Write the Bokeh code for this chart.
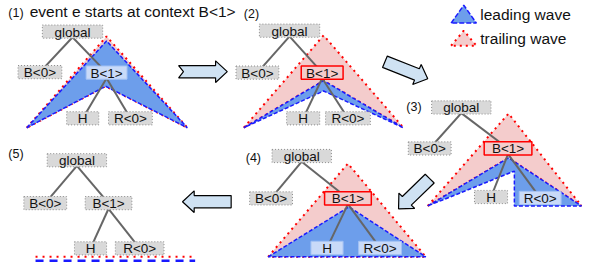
from bokeh.plotting import figure
from bokeh.models import Range1d
from bokeh.embed import file_html
from bokeh.resources import INLINE
from bokeh.core.properties import value
import math

FONT = value("Liberation Sans")

# ---------------- data ----------------
node_labels = ["global", "B<0>", "B<1>", "H", "R<0>"]
edges = [(0, 1), (0, 2), (2, 3), (2, 4)]

# per panel: centre x, centre y, width, style for each node
panel_cx = [
    [74, 40.5, 109, 84.5, 133.5],
    [297, 264, 330.5, 311, 357],
    [473.5, 441, 521.5, 504, 554.5],
    [309.5, 278, 357, 335.5, 390],
    [78.5, 46, 111, 92.5, 143],
]
panel_cy = [
    [33, 76, 76.5, 125, 125],
    [32, 76.5, 76.5, 125, 125],
    [113.5, 157, 157, 208.5, 209.5],
    [165, 210, 210, 262.5, 262.5],
    [169.5, 215, 215, 263, 263],
]
panel_w = [
    [62, 45, 42, 33, 45],
    [62, 44, 43, 34, 46],
    [61, 44, 49, 34, 43],
    [61, 44, 48, 33, 44],
    [61, 44, 48, 33, 50],
]
panel_style = [
    ["grey", "grey", "blue", "grey", "grey"],
    ["grey", "grey", "red", "grey", "grey"],
    ["grey", "grey", "red", "grey", "blue"],
    ["grey", "grey", "red", "blue", "blue"],
    ["grey", "grey", "grey", "grey", "grey"],
]
box_h = 14

# waves (polygons)
trailing_xs = [[27, 109, 192, 108], [250, 332, 414, 332], [439, 522, 597, 522], [275, 357, 437]]
trailing_ys = [[135, 38, 135, 91], [135, 37, 135, 85], [218, 120, 218, 167], [272, 173, 272]]
leading_xs = [[27, 109, 192, 108], [250, 332, 414, 332], [439, 522, 597, 528, 528], [275, 358, 437]]
leading_ys = [[135, 43, 135, 91], [135, 85, 135, 96], [218, 167, 218, 218, 181], [272, 219, 272]]
# panel 5: collapsed waves
flat_trailing = ([36, 200], [272, 272])
flat_leading = ([36, 200], [276.5, 276.5])

panel_titles = ["(1)", "(2)", "(3)", "(4)", "(5)"]
title_x = [8, 250, 417, 252, 8]
title_y = [13, 14, 113, 167, 163]
caption = "event e starts at context B<1>"

# arrows: tail (x, y), tip (x, y), notched tail
arrows = [
    (183, 75.5, 233, 75.5, 5),
    (395, 65, 439, 83, 0),
    (441, 189, 409, 221, 0),
    (237, 213.5, 187, 213.5, 0),
]

legend_labels = ["leading wave", "trailing wave"]

# ---------------- figure ----------------
p = figure(width=582, height=262, output_backend="svg", toolbar_location=None,
           x_range=Range1d(0, 598), y_range=Range1d(278, 0), min_border=0)
p.axis.visible = False
p.grid.visible = False
p.outline_line_color = None
p.background_fill_color = "white"

PINK = "#f4cccc"
BLUE = "#6d9eeb"
RED = "#ff0000"
DBLUE = "#1a1aff"
DOTS = "2 4"

# trailing waves
p.patches(trailing_xs, trailing_ys, fill_color=PINK, line_color=RED,
          line_dash=DOTS, line_width=2)
# leading waves
p.patches(leading_xs, leading_ys, fill_color=BLUE, line_color=DBLUE,
          line_dash="4 2", line_width=1.5)
p.line(flat_trailing[0], flat_trailing[1], line_color=RED, line_dash="2 5", line_width=2)
p.line(flat_leading[0], flat_leading[1], line_color=DBLUE, line_dash="8 6", line_width=3)

# tree edges
x0, y0, x1, y1 = [], [], [], []
for k in range(5):
    for a, b in edges:
        x0.append(panel_cx[k][a]); y0.append(panel_cy[k][a] + box_h / 2 - 1)
        x1.append(panel_cx[k][b]); y1.append(panel_cy[k][b])
p.segment(x0, y0, x1, y1, line_color="#666666", line_width=2)

# boxes
styles = {
    "grey": dict(fill_color="#d9d9d9", line_color="#8c8c8c", line_dash="1 2", line_width=1),
    "blue": dict(fill_color="#c9daf8", line_color="#a4c2f4", line_dash="solid", line_width=1),
    "red": dict(fill_color=PINK, line_color=RED, line_dash="solid", line_width=1.5),
}
for st, kw in styles.items():
    xs, ys, ws = [], [], []
    for k in range(5):
        for i in range(5):
            if panel_style[k][i] == st:
                xs.append(panel_cx[k][i]); ys.append(panel_cy[k][i]); ws.append(panel_w[k][i])
    if xs:
        p.rect(xs, ys, width=ws, height=box_h, **kw)

tx, ty, tt = [], [], []
for k in range(5):
    for i in range(5):
        tx.append(panel_cx[k][i]); ty.append(panel_cy[k][i] + 0.5); tt.append(node_labels[i])
p.text(tx, ty, text=tt, text_font=FONT, text_font_size="13.5px", text_align="center",
       text_baseline="middle", text_color="#111111")

# titles
p.text(title_x, title_y, text=panel_titles, text_font=FONT, text_font_size="12.5px",
       text_align="left", text_baseline="middle", text_color="#111111")
p.text([30], [12], text=[caption], text_font=FONT, text_font_size="15.5px",
       text_align="left", text_baseline="middle", text_color="#111111")

# arrows
def arrow_poly(tx_, ty_, hx, hy, notch, bw=6.5, hw=11.5, hl=12):
    L = math.hypot(hx - tx_, hy - ty_)
    ux, uy = (hx - tx_) / L, (hy - ty_) / L
    nx, ny = -uy, ux
    base = L - hl
    loc = [(0, -bw), (base, -bw), (base, -hw), (L, 0), (base, hw), (base, bw), (0, bw), (notch, 0)]
    return ([tx_ + a * ux + q * nx for a, q in loc], [ty_ + a * uy + q * ny for a, q in loc])

axs, ays = [], []
for a in arrows:
    xx, yy = arrow_poly(*a)
    axs.append(xx); ays.append(yy)
p.patches(axs, ays, fill_color="#cfe2f3", line_color="black", line_width=1.2)

# legend
p.patch([463, 476, 489], [24, 5, 24], fill_color=BLUE, line_color=DBLUE, line_width=1.5,
        line_dash="5 2")
p.patch([463, 476, 489], [48, 32, 48], fill_color=PINK, line_color=RED, line_width=2,
        line_dash=DOTS)
p.text([493, 493], [15, 40], text=legend_labels, text_font=FONT, text_font_size="15.5px",
       text_align="left", text_baseline="middle", text_color="#111111")

open("out.html", "w").write(file_html(p, INLINE))
